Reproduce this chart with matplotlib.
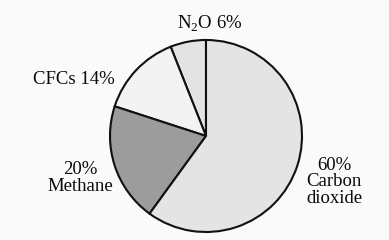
import matplotlib
matplotlib.use("Agg")
import matplotlib.pyplot as plt

labels = ["N$_2$O 6%", "CFCs 14%", "20%\nMethane", "60%\nCarbon\ndioxide"]
values = [6, 14, 20, 60]
colors = ["#e3e3e3", "#f3f3f3", "#9c9c9c", "#e4e4e4"]
label_pos = [(210, 216), (74, 160), (80, 62), (334, 58)]

plt.rcParams['font.family'] = ['Liberation Serif', 'DejaVu Serif']
plt.rcParams['mathtext.fontset'] = 'custom'
plt.rcParams['mathtext.rm'] = 'Liberation Serif'

fig = plt.figure(figsize=(3.89, 2.40), dpi=100, facecolor="#fafafa")
ax = fig.add_axes([0, 0, 1, 1])
ax.set_facecolor("#fafafa")
ax.pie(values, colors=colors, startangle=90, counterclock=True,
       center=(206, 104), radius=96,
       wedgeprops=dict(edgecolor="#111111", linewidth=1.5))
ax.set_xlim(0, 389)
ax.set_ylim(0, 240)
ax.set_aspect('auto')
ax.axis('off')
for lab, (x, y) in zip(labels, label_pos):
    ax.text(x, y, lab, ha='center', va='center', fontsize=13.5,
            linespacing=0.95, color="#0a0a0a")
fig.savefig("out.png", dpi=100, facecolor=fig.get_facecolor())
